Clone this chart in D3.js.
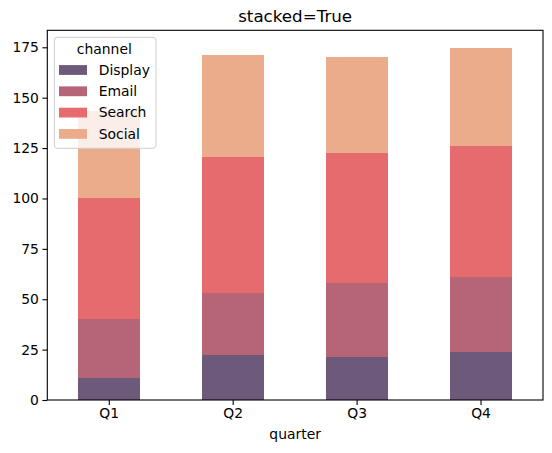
<!DOCTYPE html>
<html>
<head>
<meta charset="utf-8">
<script src="https://cdn.jsdelivr.net/npm/d3@7"></script>
<style>
  body { margin: 0; background: #fff; }
  text { font-family: "DejaVu Sans", sans-serif; fill: #000; }
</style>
</head>
<body>
<div id="chart"></div>
<script>
const quarters = ["Q1", "Q2", "Q3", "Q4"];
const channels = ["Display", "Email", "Search", "Social"];
const display = [11, 22.3, 21.3, 23.8];
const email = [29, 30.8, 36.7, 37.2];
const search = [60.2, 67.5, 64.5, 65];
const social = [43.2, 50.6, 47.6, 48.7];
const colors = ["#6d597a", "#b56576", "#e56b6f", "#eaac8b"];
const yTicks = [0, 25, 50, 75, 100, 125, 150, 175];

const rows = quarters.map((q, i) => ({
  quarter: q, Display: display[i], Email: email[i], Search: search[i], Social: social[i]
}));

const W = 552, H = 453;
const margin = {top: 30.3, right: 9, bottom: 53, left: 47.3};
const width = W - margin.left - margin.right;
const height = H - margin.top - margin.bottom;

const svg = d3.select("#chart").append("svg").attr("width", W).attr("height", H);
const g = svg.append("g").attr("transform", `translate(${margin.left},${margin.top})`);

const series = d3.stack().keys(channels)(rows);
const ymax = d3.max(series[series.length - 1], d => d[1]) * 1.05;

const x = d3.scaleBand().domain(quarters).range([0, width]).paddingInner(0.5).paddingOuter(0.25);
const y = d3.scaleLinear().domain([0, ymax]).range([height, 0]);
const color = d3.scaleOrdinal().domain(channels).range(colors);

// bars
g.selectAll(".layer")
  .data(series)
  .enter().append("g")
    .attr("class", "layer")
    .attr("fill", d => color(d.key))
  .selectAll("rect")
  .data(d => d)
  .enter().append("rect")
    .attr("shape-rendering", "crispEdges")
    .attr("x", d => x(d.data.quarter))
    .attr("width", x.bandwidth())
    .attr("y", d => y(d[1]))
    .attr("height", d => y(d[0]) - y(d[1]));

// axes
const xAxis = g.append("g")
  .attr("transform", `translate(0,${height})`)
  .call(d3.axisBottom(x).tickSize(4.9).tickPadding(3.5));
const yAxis = g.append("g")
  .call(d3.axisLeft(y).tickValues(yTicks).tickSize(4.9).tickPadding(3.5));

[xAxis, yAxis].forEach(a => {
  a.select(".domain").remove();
  a.selectAll("line").attr("stroke", "#000").attr("stroke-width", 1.1);
  a.selectAll("text").style("font-size", "13.9px").attr("fill", "#000");
});

// frame
g.append("rect")
  .attr("width", width).attr("height", height)
  .attr("fill", "none").attr("stroke", "#000").attr("stroke-width", 1.1);

// labels
svg.append("text")
  .attr("x", margin.left + width / 2).attr("y", 22)
  .attr("text-anchor", "middle").style("font-size", "16.7px")
  .text("stacked=True");

svg.append("text")
  .attr("x", margin.left + width / 2).attr("y", 438.5)
  .attr("text-anchor", "middle").style("font-size", "13.9px")
  .text("quarter");

// legend
const lg = svg.append("g").attr("transform", "translate(54.3,37.3)");
lg.append("rect")
  .attr("width", 101.7).attr("height", 111)
  .attr("rx", 3).attr("ry", 3)
  .attr("fill", "#fff").attr("fill-opacity", 0.8)
  .attr("stroke", "#cccccc").attr("stroke-width", 1);
lg.append("text")
  .attr("x", 50).attr("y", 16.5)
  .attr("text-anchor", "middle").style("font-size", "13.9px")
  .text("channel");
const items = lg.selectAll(".item")
  .data(channels)
  .enter().append("g")
    .attr("class", "item")
    .attr("transform", (d, i) => `translate(0,${32.7 + i * 21.3})`);
items.append("rect")
  .attr("x", 4.7).attr("y", -4.9)
  .attr("width", 28).attr("height", 9.8)
  .attr("fill", d => color(d));
items.append("text")
  .attr("x", 44.4).attr("dy", "0.35em")
  .style("font-size", "13.9px")
  .text(d => d);
</script>
</body>
</html>
